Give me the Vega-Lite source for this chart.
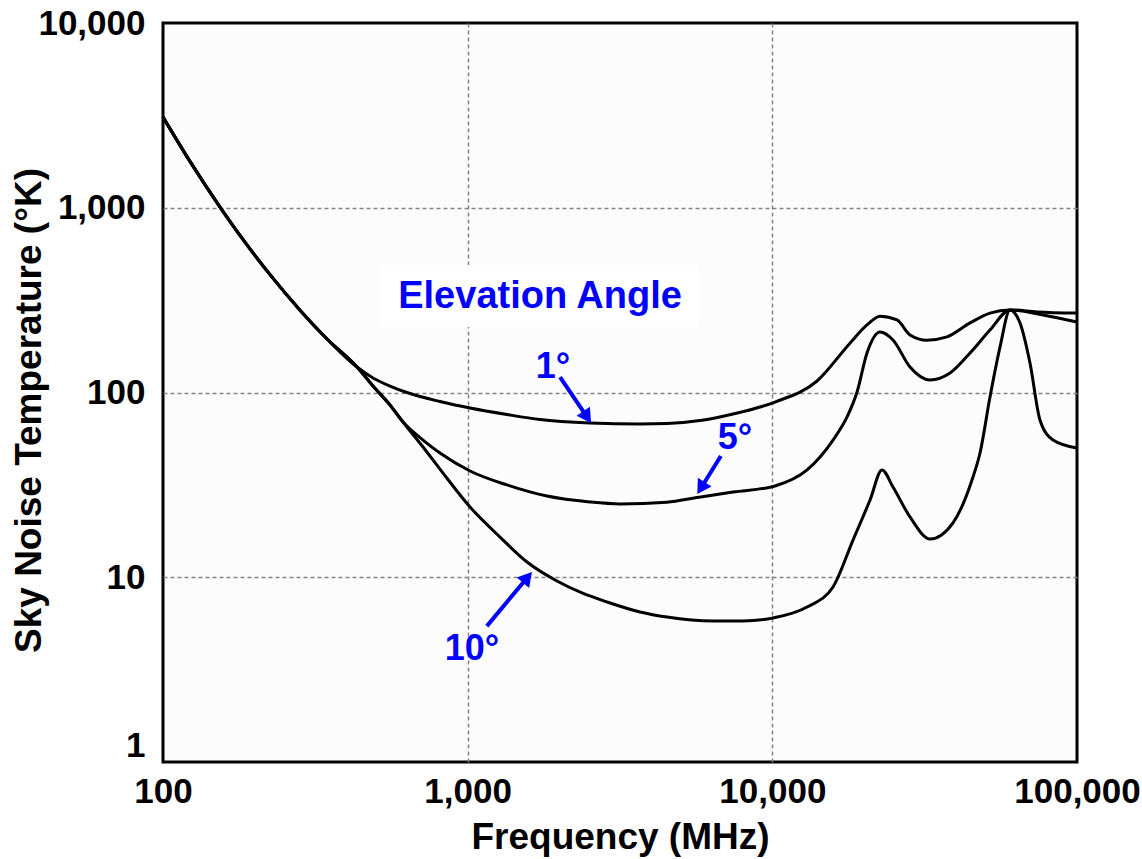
{
  "$schema": "https://vega.github.io/schema/vega-lite/v6.json",
  "width": 914,
  "height": 739,
  "autosize": {"type": "none"},
  "padding": {"left": 163, "top": 23, "right": 65, "bottom": 97},
  "background": "#ffffff",
  "config": {
    "view": {"stroke": "#000000", "strokeWidth": 3, "fill": "#fcfcfc"},
    "font": "Liberation Sans",
    "axis": {
      "labelFont": "Liberation Sans", "titleFont": "Liberation Sans",
      "labelFontSize": 35, "titleFontSize": 37,
      "labelFontWeight": "bold", "titleFontWeight": "bold",
      "labelColor": "#000000", "titleColor": "#000000",
      "domain": false, "ticks": false,
      "gridColor": "#858585", "gridDash": [4, 3], "gridWidth": 1.5,
      "labelOverlap": false, "labelFlush": false
    }
  },
  "datasets": {
    "box": [{"f": 515, "f2": 5702, "T": 226, "T2": 490}],
    "labels": [
      {"label": "Elevation Angle", "f": 1728, "T": 329},
      {"label": "1°", "f": 1905, "T": 137},
      {"label": "5°", "f": 7534, "T": 56.8},
      {"label": "10°", "f": 1033, "T": 4.09}
    ],
    "arrows": [
      {"label": "1°", "f": 2010, "T": 121, "f2": 2467, "T2": 73.6},
      {"label": "5°", "f": 6776, "T": 45.3, "f2": 5833, "T2": 30.4},
      {"label": "10°", "f": 1156, "T": 5.44, "f2": 1571, "T2": 9.98}
    ],
    "heads": [
      {"label": "1°", "f": 2467, "T": 73.6},
      {"label": "5°", "f": 5833, "T": 30.4},
      {"label": "10°", "f": 1571, "T": 9.98}
    ],
    "curves": [
      {"angle": "1°", "f": 100, "T": 3098}, {"angle": "1°", "f": 122.6, "T": 1782}, {"angle": "1°", "f": 151.5, "T": 1047}, {"angle": "1°", "f": 185.8, "T": 651}, {"angle": "1°", "f": 228, "T": 421}, {"angle": "1°", "f": 281.7, "T": 279}, {"angle": "1°", "f": 345, "T": 195.3}, {"angle": "1°", "f": 433.3, "T": 137.4},
      {"angle": "1°", "f": 489, "T": 119.8}, {"angle": "1°", "f": 556, "T": 108.4}, {"angle": "1°", "f": 632, "T": 100}, {"angle": "1°", "f": 811, "T": 89.4}, {"angle": "1°", "f": 1018, "T": 82.4}, {"angle": "1°", "f": 1346, "T": 76.0}, {"angle": "1°", "f": 1728, "T": 71.4}, {"angle": "1°", "f": 2520, "T": 68.4}, {"angle": "1°", "f": 3679, "T": 67.5}, {"angle": "1°", "f": 4510, "T": 67.9}, {"angle": "1°", "f": 5788, "T": 70.5}, {"angle": "1°", "f": 7430, "T": 76.5}, {"angle": "1°", "f": 10200, "T": 88.8}, {"angle": "1°", "f": 14020, "T": 115.4}, {"angle": "1°", "f": 17980, "T": 185}, {"angle": "1°", "f": 20450, "T": 232}, {"angle": "1°", "f": 22570, "T": 259}, {"angle": "1°", "f": 25660, "T": 247}, {"angle": "1°", "f": 28300, "T": 205}, {"angle": "1°", "f": 32180, "T": 192}, {"angle": "1°", "f": 37440, "T": 200}, {"angle": "1°", "f": 44560, "T": 238}, {"angle": "1°", "f": 51810, "T": 269}, {"angle": "1°", "f": 60260, "T": 280}, {"angle": "1°", "f": 73920, "T": 273}, {"angle": "1°", "f": 100000, "T": 269},

      {"angle": "5°", "f": 100, "T": 3098}, {"angle": "5°", "f": 122.6, "T": 1782}, {"angle": "5°", "f": 151.5, "T": 1047}, {"angle": "5°", "f": 185.8, "T": 651}, {"angle": "5°", "f": 228, "T": 421}, {"angle": "5°", "f": 281.7, "T": 279}, {"angle": "5°", "f": 345, "T": 195.3}, {"angle": "5°", "f": 433.3, "T": 137.4},
      {"angle": "5°", "f": 489, "T": 108.4}, {"angle": "5°", "f": 556, "T": 85.6}, {"angle": "5°", "f": 613.5, "T": 69.2},
      {"angle": "5°", "f": 713.6, "T": 55.3}, {"angle": "5°", "f": 811, "T": 47.05}, {"angle": "5°", "f": 1018, "T": 37.6}, {"angle": "5°", "f": 1346, "T": 31.6}, {"angle": "5°", "f": 1821, "T": 27.5}, {"angle": "5°", "f": 2520, "T": 25.55}, {"angle": "5°", "f": 3162, "T": 24.95}, {"angle": "5°", "f": 4510, "T": 25.5}, {"angle": "5°", "f": 5657, "T": 27.0}, {"angle": "5°", "f": 7430, "T": 28.9}, {"angle": "5°", "f": 10200, "T": 31.2}, {"angle": "5°", "f": 13000, "T": 38.1}, {"angle": "5°", "f": 15820, "T": 55.3}, {"angle": "5°", "f": 17590, "T": 73.7}, {"angle": "5°", "f": 18970, "T": 100.6}, {"angle": "5°", "f": 20450, "T": 163.6}, {"angle": "5°", "f": 22570, "T": 212.6}, {"angle": "5°", "f": 24890, "T": 192.4}, {"angle": "5°", "f": 28300, "T": 137.4}, {"angle": "5°", "f": 32920, "T": 116.8}, {"angle": "5°", "f": 38300, "T": 127.5}, {"angle": "5°", "f": 44560, "T": 163.6}, {"angle": "5°", "f": 51810, "T": 217.9}, {"angle": "5°", "f": 60260, "T": 280}, {"angle": "5°", "f": 77340, "T": 262.8}, {"angle": "5°", "f": 100000, "T": 240.7},

      {"angle": "10°", "f": 100, "T": 3098}, {"angle": "10°", "f": 122.6, "T": 1782}, {"angle": "10°", "f": 151.5, "T": 1047}, {"angle": "10°", "f": 185.8, "T": 651}, {"angle": "10°", "f": 228, "T": 421}, {"angle": "10°", "f": 281.7, "T": 279}, {"angle": "10°", "f": 345, "T": 195.3}, {"angle": "10°", "f": 433.3, "T": 137.4},
      {"angle": "10°", "f": 489, "T": 108.4}, {"angle": "10°", "f": 556, "T": 85.6}, {"angle": "10°", "f": 613.5, "T": 69.2},
      {"angle": "10°", "f": 713.6, "T": 50.7}, {"angle": "10°", "f": 811, "T": 38.5}, {"angle": "10°", "f": 1018, "T": 24.0}, {"angle": "10°", "f": 1277, "T": 16.5}, {"angle": "10°", "f": 1566, "T": 12.09}, {"angle": "10°", "f": 1964, "T": 9.54}, {"angle": "10°", "f": 2373, "T": 8.22}, {"angle": "10°", "f": 2867, "T": 7.35}, {"angle": "10°", "f": 3679, "T": 6.49}, {"angle": "10°", "f": 4510, "T": 6.09}, {"angle": "10°", "f": 6386, "T": 5.8}, {"angle": "10°", "f": 8010, "T": 5.8}, {"angle": "10°", "f": 10050, "T": 6.02}, {"angle": "10°", "f": 13000, "T": 6.9}, {"angle": "10°", "f": 15820, "T": 8.86}, {"angle": "10°", "f": 18400, "T": 15.9}, {"angle": "10°", "f": 20930, "T": 26.2}, {"angle": "10°", "f": 22910, "T": 38.1}, {"angle": "10°", "f": 24890, "T": 30.8}, {"angle": "10°", "f": 28300, "T": 21.2}, {"angle": "10°", "f": 32920, "T": 16.1}, {"angle": "10°", "f": 39170, "T": 19.7}, {"angle": "10°", "f": 45220, "T": 33.6}, {"angle": "10°", "f": 48040, "T": 47.05}, {"angle": "10°", "f": 51810, "T": 94.5}, {"angle": "10°", "f": 55880, "T": 176}, {"angle": "10°", "f": 60260, "T": 280}, {"angle": "10°", "f": 65010, "T": 237.8}, {"angle": "10°", "f": 70100, "T": 144.4}, {"angle": "10°", "f": 75580, "T": 71.0}, {"angle": "10°", "f": 83410, "T": 55.3}, {"angle": "10°", "f": 100000, "T": 50.1}
    ]
  },
  "encoding": {
    "x": {
      "field": "f", "type": "quantitative",
      "scale": {"type": "log", "domain": [100, 100000], "nice": false},
      "axis": {
        "values": [100, 1000, 10000, 100000], "format": ",",
        "title": "Frequency (MHz)", "labelPadding": 12, "titlePadding": 10,
        "gridOpacity": {"condition": {"test": "datum.value <= 100 || datum.value >= 100000", "value": 0}, "value": 1}
      }
    },
    "y": {
      "field": "T", "type": "quantitative",
      "scale": {"type": "log", "domain": [1, 10000], "nice": false},
      "axis": {
        "values": [1, 10, 100, 1000, 10000], "format": ",",
        "title": "Sky Noise Temperature (°K)", "labelPadding": 18,
        "titleX": -115, "titleY": 387,
        "labelOffset": {"condition": {"test": "datum.value <= 1", "value": -17}, "value": 0},
        "gridOpacity": {"condition": {"test": "datum.value <= 1 || datum.value >= 10000", "value": 0}, "value": 1}
      }
    }
  },
  "layer": [
    {
      "data": {"name": "box"},
      "mark": {"type": "rect", "fill": "#ffffff", "strokeWidth": 0},
      "encoding": {"x2": {"field": "f2"}, "y2": {"field": "T2"}}
    },
    {
      "data": {"name": "curves"},
      "mark": {"type": "line", "color": "#000000", "strokeWidth": 3, "interpolate": "monotone"},
      "encoding": {"detail": {"field": "angle", "type": "nominal"}}
    },
    {
      "data": {"name": "labels"},
      "transform": [{"filter": "datum.label === 'Elevation Angle'"}],
      "mark": {"type": "text", "color": "#0000ff", "fontSize": 38, "fontWeight": "bold", "font": "Liberation Sans", "align": "center", "baseline": "middle"},
      "encoding": {"text": {"field": "label", "type": "nominal"}}
    },
    {
      "data": {"name": "labels"},
      "transform": [{"filter": "datum.label !== 'Elevation Angle'"}],
      "mark": {"type": "text", "color": "#0000ff", "fontSize": 36, "fontWeight": "bold", "font": "Liberation Sans", "align": "center", "baseline": "middle"},
      "encoding": {"text": {"field": "label", "type": "nominal"}}
    },
    {
      "data": {"name": "arrows"},
      "mark": {"type": "rule", "color": "#0000ff", "strokeWidth": 4},
      "encoding": {"x2": {"field": "f2"}, "y2": {"field": "T2"}}
    },
    {
      "data": {"name": "heads"},
      "transform": [{"filter": "datum.label === '1°'"}],
      "mark": {"type": "point", "shape": "triangle-up", "filled": true, "color": "#0000ff", "opacity": 1, "size": 260, "angle": 146}
    },
    {
      "data": {"name": "heads"},
      "transform": [{"filter": "datum.label === '5°'"}],
      "mark": {"type": "point", "shape": "triangle-up", "filled": true, "color": "#0000ff", "opacity": 1, "size": 260, "angle": 212}
    },
    {
      "data": {"name": "heads"},
      "transform": [{"filter": "datum.label === '10°'"}],
      "mark": {"type": "point", "shape": "triangle-up", "filled": true, "color": "#0000ff", "opacity": 1, "size": 260, "angle": 40}
    }
  ]
}
